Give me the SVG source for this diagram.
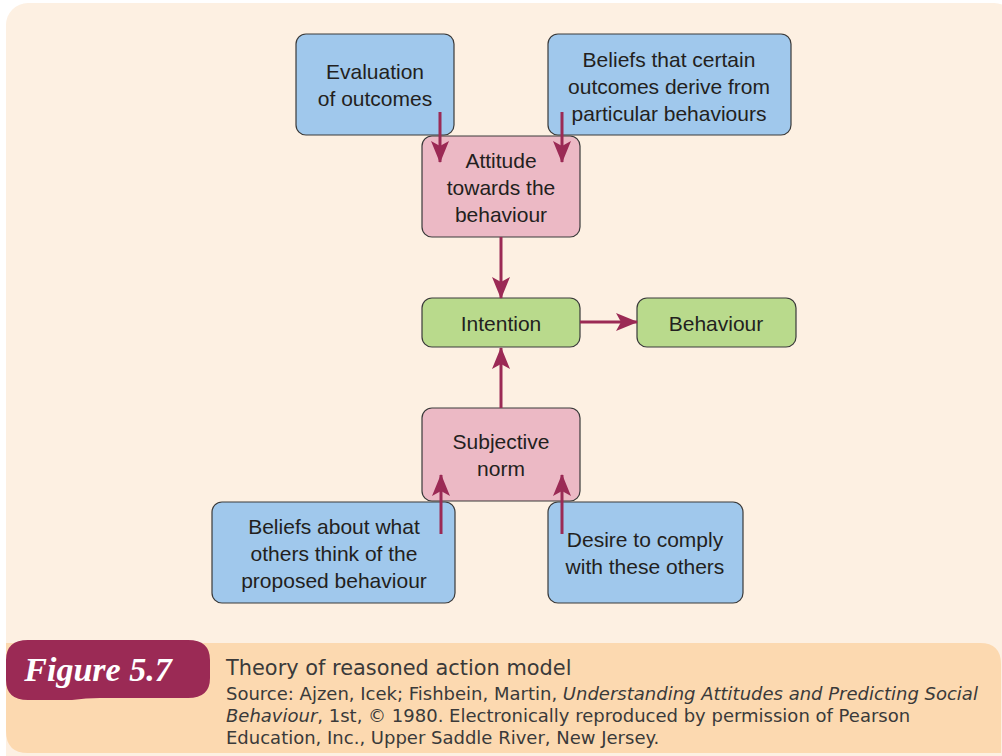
<svg xmlns="http://www.w3.org/2000/svg" width="1002" height="756" viewBox="0 0 1002 756">
<defs>
<style>
.node rect{stroke:#3a3a3a;stroke-width:1.2}
.blue{fill:#a0c8ec}
.pink{fill:#ecb9c5}
.green{fill:#b9da8c}
.t{font-family:"Liberation Sans",Arial,sans-serif;font-size:21px;fill:#231f20;text-anchor:middle}
.cap{font-family:"DejaVu Sans","Liberation Sans",sans-serif;fill:#3a3a3a}
.conn line{stroke:#9b2a55;stroke-width:3}
</style>
<marker id="ah" viewBox="0 0 22 18" refX="21" refY="9" markerWidth="22" markerHeight="18" markerUnits="userSpaceOnUse" orient="auto">
<path d="M0,0 L22,9 L0,18 L5,9 Z" fill="#9b2a55"/>
</marker>
</defs>
<rect x="6" y="3" width="1010" height="780" rx="22" fill="#fdf0e2"/>
<path d="M6,643 H980 Q1001,643 1001,664 V753 H28 Q6,753 6,731 Z" fill="#fcd9b0"/>
<g id="figlabel">
<path d="M28,640 H188 Q210,640 210,660 V678 Q210,698 188,698 H100 Q86,698 72,700 H28 Q6,700 6,680 V660 Q6,640 28,640 Z" fill="#9b2a55"/>
<text x="98" y="681" font-family="'Liberation Serif',serif" font-style="italic" font-weight="bold" font-size="34" fill="#ffffff" text-anchor="middle">Figure 5.7</text>
</g>
<text class="cap" x="226" y="675" font-size="20.9">Theory of reasoned action model</text>
<text class="cap" x="226" y="700" font-size="18">Source: Ajzen, Icek; Fishbein, Martin, <tspan font-style="italic">Understanding Attitudes and Predicting Social</tspan></text>
<text class="cap" x="226" y="722" font-size="18"><tspan font-style="italic">Behaviour</tspan>, 1st, © 1980. Electronically reproduced by permission of Pearson</text>
<text class="cap" x="226" y="744" font-size="18">Education, Inc., Upper Saddle River, New Jersey.</text>

<g id="n_eval" class="node"><rect class="blue" x="296" y="34" width="158" height="101" rx="10"/>
<text class="t" x="375" y="79">Evaluation</text><text class="t" x="375" y="106">of outcomes</text></g>
<g id="n_beliefs" class="node"><rect class="blue" x="548" y="34" width="243" height="101" rx="10"/>
<text class="t" x="669" y="67">Beliefs that certain</text><text class="t" x="669" y="94">outcomes derive from</text><text class="t" x="669" y="121">particular behaviours</text></g>
<g id="n_attitude" class="node"><rect class="pink" x="422" y="136" width="158" height="101" rx="10"/>
<text class="t" x="501" y="168">Attitude</text><text class="t" x="501" y="195">towards the</text><text class="t" x="501" y="222">behaviour</text></g>
<g id="n_intention" class="node"><rect class="green" x="422" y="298" width="158" height="49" rx="10"/>
<text class="t" x="501" y="331">Intention</text></g>
<g id="n_behaviour" class="node"><rect class="green" x="637" y="298" width="159" height="49" rx="10"/>
<text class="t" x="716" y="331">Behaviour</text></g>
<g id="n_norm" class="node"><rect class="pink" x="422" y="408" width="158" height="93" rx="10"/>
<text class="t" x="501" y="449">Subjective</text><text class="t" x="501" y="476">norm</text></g>
<g id="n_others" class="node"><rect class="blue" x="212" y="502" width="243" height="101" rx="10"/>
<text class="t" x="334" y="534">Beliefs about what</text><text class="t" x="334" y="561">others think of the</text><text class="t" x="334" y="588">proposed behaviour</text></g>
<g id="n_desire" class="node"><rect class="blue" x="548" y="502" width="195" height="101" rx="10"/>
<text class="t" x="645" y="547">Desire to comply</text><text class="t" x="645" y="574">with these others</text></g>

<g id="connectors" class="conn">
<line x1="440" y1="112" x2="440" y2="162" marker-end="url(#ah)"/>
<line x1="562" y1="112" x2="562" y2="162" marker-end="url(#ah)"/>
<line x1="501" y1="237" x2="501" y2="298" marker-end="url(#ah)"/>
<line x1="580" y1="322" x2="637" y2="322" marker-end="url(#ah)"/>
<line x1="501" y1="408" x2="501" y2="348" marker-end="url(#ah)"/>
<line x1="441" y1="534" x2="441" y2="475" marker-end="url(#ah)"/>
<line x1="562" y1="534" x2="562" y2="475" marker-end="url(#ah)"/>
</g>
</svg>
